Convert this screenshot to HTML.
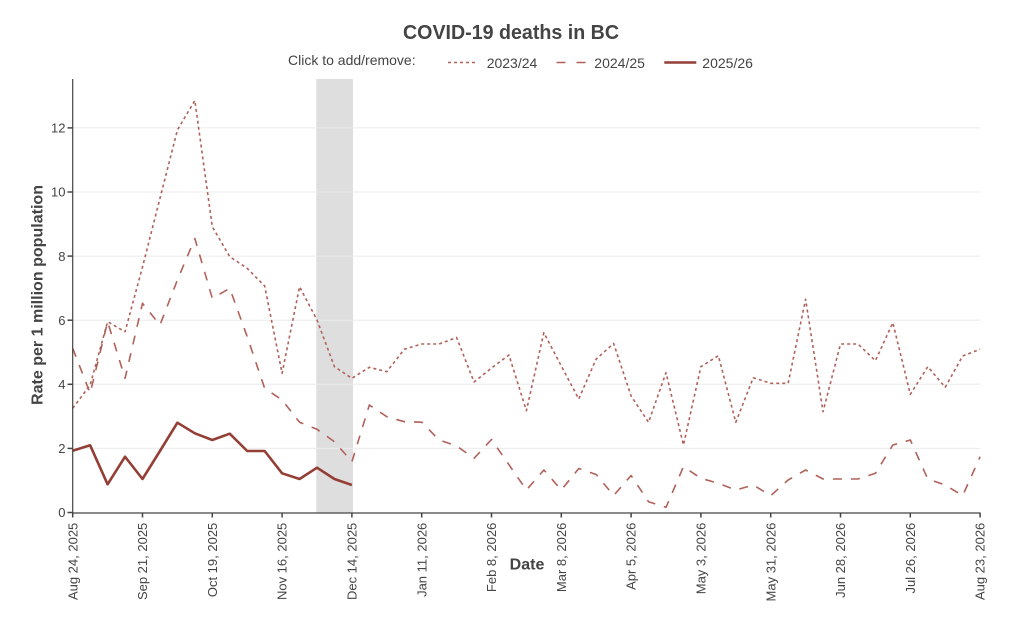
<!DOCTYPE html>
<html>
<head>
<meta charset="utf-8">
<style>
  html, body { margin: 0; padding: 0; background: #ffffff; }
  svg { display: block; }
  text { font-family: "Liberation Sans", "DejaVu Sans", sans-serif; fill: #444444; }
</style>
</head>
<body>
<svg width="1024" height="639" viewBox="0 0 1024 639" xmlns="http://www.w3.org/2000/svg">
  <rect x="0" y="0" width="1024" height="639" fill="#ffffff"/>

  <!-- shaded band -->
  <rect x="316.3" y="79" width="36.7" height="433.5" fill="#dedede"/>

  <!-- gridlines -->
  <g stroke="#ebebeb" stroke-width="1">
    <line x1="73" y1="448.4" x2="980" y2="448.4"/>
    <line x1="73" y1="384.3" x2="980" y2="384.3"/>
    <line x1="73" y1="320.2" x2="980" y2="320.2"/>
    <line x1="73" y1="256.1" x2="980" y2="256.1"/>
    <line x1="73" y1="192.0" x2="980" y2="192.0"/>
    <line x1="73" y1="127.9" x2="980" y2="127.9"/>
  </g>

  <!-- 2023/24 dotted -->
  <polyline fill="none" stroke="#b0625a" stroke-width="1.6" stroke-dasharray="3,3" stroke-linejoin="round"
    points="72.70,408.3 90.15,385 107.60,321.7 125.05,331.7 142.50,267 159.95,198.4 177.40,130 194.85,100.5 212.30,226.7 229.75,256.7 247.20,268.3 264.65,286 282.10,373.3 299.55,286.7 317.00,320 334.45,366.7 351.90,378.3 369.35,367.3 386.80,371.7 404.25,349.3 421.70,344 439.15,344 456.60,337.5 474.05,382 491.50,368 508.95,355 526.40,410.7 543.85,332.7 561.30,366 578.75,399 596.20,359 613.65,343.5 631.10,396 648.55,422.3 666.00,372.7 683.45,445 700.90,366.7 718.35,355.7 735.80,422.3 753.25,377.7 770.70,383.3 788.15,383.3 805.60,299.3 823.05,411.7 840.50,344 857.95,344 875.40,360.7 892.85,322.7 910.30,394.3 927.75,366.7 945.20,387.3 962.65,356 980.10,349.3"/>

  <!-- 2024/25 dashed -->
  <polyline fill="none" stroke="#b0625a" stroke-width="1.6" stroke-dasharray="9,9" stroke-linejoin="round"
    points="72.70,348.3 90.15,393.3 107.60,321.7 125.05,378.3 142.50,303.3 159.95,325 177.40,280 194.85,238.5 212.30,298.3 229.75,288.3 247.20,336.7 264.65,388.3 282.10,400 299.55,422.3 317.00,429.3 334.45,441.7 351.90,461.7 369.35,405 386.80,416.7 404.25,421.7 421.70,422.2 439.15,440 456.60,446 474.05,458.3 491.50,439.5 508.95,464.7 526.40,490 543.85,470 561.30,490 578.75,468.5 596.20,474.5 613.65,495.5 631.10,475.5 648.55,501.7 666.00,507.3 683.45,466.7 700.90,478.3 718.35,483.3 735.80,490 753.25,485 770.70,495.7 788.15,480 805.60,470 823.05,479 840.50,479 857.95,479 875.40,473.3 892.85,445 910.30,440 927.75,479 945.20,485 962.65,495.7 980.10,456.7"/>

  <!-- 2025/26 solid -->
  <polyline fill="none" stroke="#943f35" stroke-width="2.6" stroke-linejoin="round"
    points="72.70,450.7 90.15,445.3 107.60,484.3 125.05,456.7 142.50,479 159.95,451 177.40,422.7 194.85,433.3 212.30,440 229.75,433.7 247.20,451 264.65,451 282.10,473.3 299.55,479 317.00,467.7 334.45,479 351.90,485"/>

  <!-- axes -->
  <line x1="72.7" y1="79" x2="72.7" y2="513.5" stroke="#444" stroke-width="1.2"/>
  <line x1="72.2" y1="513" x2="980.6" y2="513" stroke="#444" stroke-width="1.2"/>

  <!-- y ticks -->
  <g stroke="#444" stroke-width="1.5">
    <line x1="67.5" y1="512.5" x2="72.7" y2="512.5"/>
    <line x1="67.5" y1="448.4" x2="72.7" y2="448.4"/>
    <line x1="67.5" y1="384.3" x2="72.7" y2="384.3"/>
    <line x1="67.5" y1="320.2" x2="72.7" y2="320.2"/>
    <line x1="67.5" y1="256.1" x2="72.7" y2="256.1"/>
    <line x1="67.5" y1="192.0" x2="72.7" y2="192.0"/>
    <line x1="67.5" y1="127.9" x2="72.7" y2="127.9"/>
  </g>
  <g font-size="13" text-anchor="end">
    <text x="65.5" y="517.2">0</text>
    <text x="65.5" y="453.1">2</text>
    <text x="65.5" y="389.0">4</text>
    <text x="65.5" y="324.9">6</text>
    <text x="65.5" y="260.8">8</text>
    <text x="65.5" y="196.7">10</text>
    <text x="65.5" y="132.6">12</text>
  </g>

  <!-- x ticks -->
  <g stroke="#444" stroke-width="1.5">
    <line x1="72.7" y1="513" x2="72.7" y2="517.5"/>
    <line x1="142.5" y1="513" x2="142.5" y2="517.5"/>
    <line x1="212.3" y1="513" x2="212.3" y2="517.5"/>
    <line x1="282.1" y1="513" x2="282.1" y2="517.5"/>
    <line x1="351.9" y1="513" x2="351.9" y2="517.5"/>
    <line x1="421.7" y1="513" x2="421.7" y2="517.5"/>
    <line x1="491.5" y1="513" x2="491.5" y2="517.5"/>
    <line x1="561.3" y1="513" x2="561.3" y2="517.5"/>
    <line x1="631.1" y1="513" x2="631.1" y2="517.5"/>
    <line x1="700.9" y1="513" x2="700.9" y2="517.5"/>
    <line x1="770.7" y1="513" x2="770.7" y2="517.5"/>
    <line x1="840.5" y1="513" x2="840.5" y2="517.5"/>
    <line x1="910.3" y1="513" x2="910.3" y2="517.5"/>
    <line x1="980.1" y1="513" x2="980.1" y2="517.5"/>
  </g>
  <g font-size="13" text-anchor="end">
    <text transform="translate(77.3,522.7) rotate(-90)">Aug 24, 2025</text>
    <text transform="translate(147.1,522.7) rotate(-90)">Sep 21, 2025</text>
    <text transform="translate(216.9,522.7) rotate(-90)">Oct 19, 2025</text>
    <text transform="translate(286.7,522.7) rotate(-90)">Nov 16, 2025</text>
    <text transform="translate(356.5,522.7) rotate(-90)">Dec 14, 2025</text>
    <text transform="translate(426.3,522.7) rotate(-90)">Jan 11, 2026</text>
    <text transform="translate(496.1,522.7) rotate(-90)">Feb 8, 2026</text>
    <text transform="translate(565.9,522.7) rotate(-90)">Mar 8, 2026</text>
    <text transform="translate(635.7,522.7) rotate(-90)">Apr 5, 2026</text>
    <text transform="translate(705.5,522.7) rotate(-90)">May 3, 2026</text>
    <text transform="translate(775.3,522.7) rotate(-90)">May 31, 2026</text>
    <text transform="translate(845.1,522.7) rotate(-90)">Jun 28, 2026</text>
    <text transform="translate(914.9,522.7) rotate(-90)">Jul 26, 2026</text>
    <text transform="translate(984.7,522.7) rotate(-90)">Aug 23, 2026</text>
  </g>

  <!-- axis titles -->
  <text x="527" y="569.3" font-size="16" font-weight="bold" text-anchor="middle">Date</text>
  <text transform="translate(42.5,295) rotate(-90)" font-size="16" font-weight="bold" text-anchor="middle" textLength="220" lengthAdjust="spacingAndGlyphs">Rate per 1 million population</text>

  <!-- title -->
  <text x="511" y="39" font-size="20" font-weight="bold" text-anchor="middle" textLength="216" lengthAdjust="spacingAndGlyphs">COVID-19 deaths in BC</text>

  <!-- legend -->
  <text x="288" y="65" font-size="14">Click to add/remove:</text>
  <line x1="448" y1="62.5" x2="478" y2="62.5" stroke="#b0625a" stroke-width="1.6" stroke-dasharray="3,3"/>
  <text x="486.7" y="67.8" font-size="14">2023/24</text>
  <line x1="556.5" y1="62.5" x2="586" y2="62.5" stroke="#b0625a" stroke-width="1.6" stroke-dasharray="9,11"/>
  <text x="594.3" y="67.8" font-size="14">2024/25</text>
  <line x1="664.3" y1="62.5" x2="696.3" y2="62.5" stroke="#943f35" stroke-width="2.6"/>
  <text x="702.3" y="67.8" font-size="14">2025/26</text>
</svg>
</body>
</html>
